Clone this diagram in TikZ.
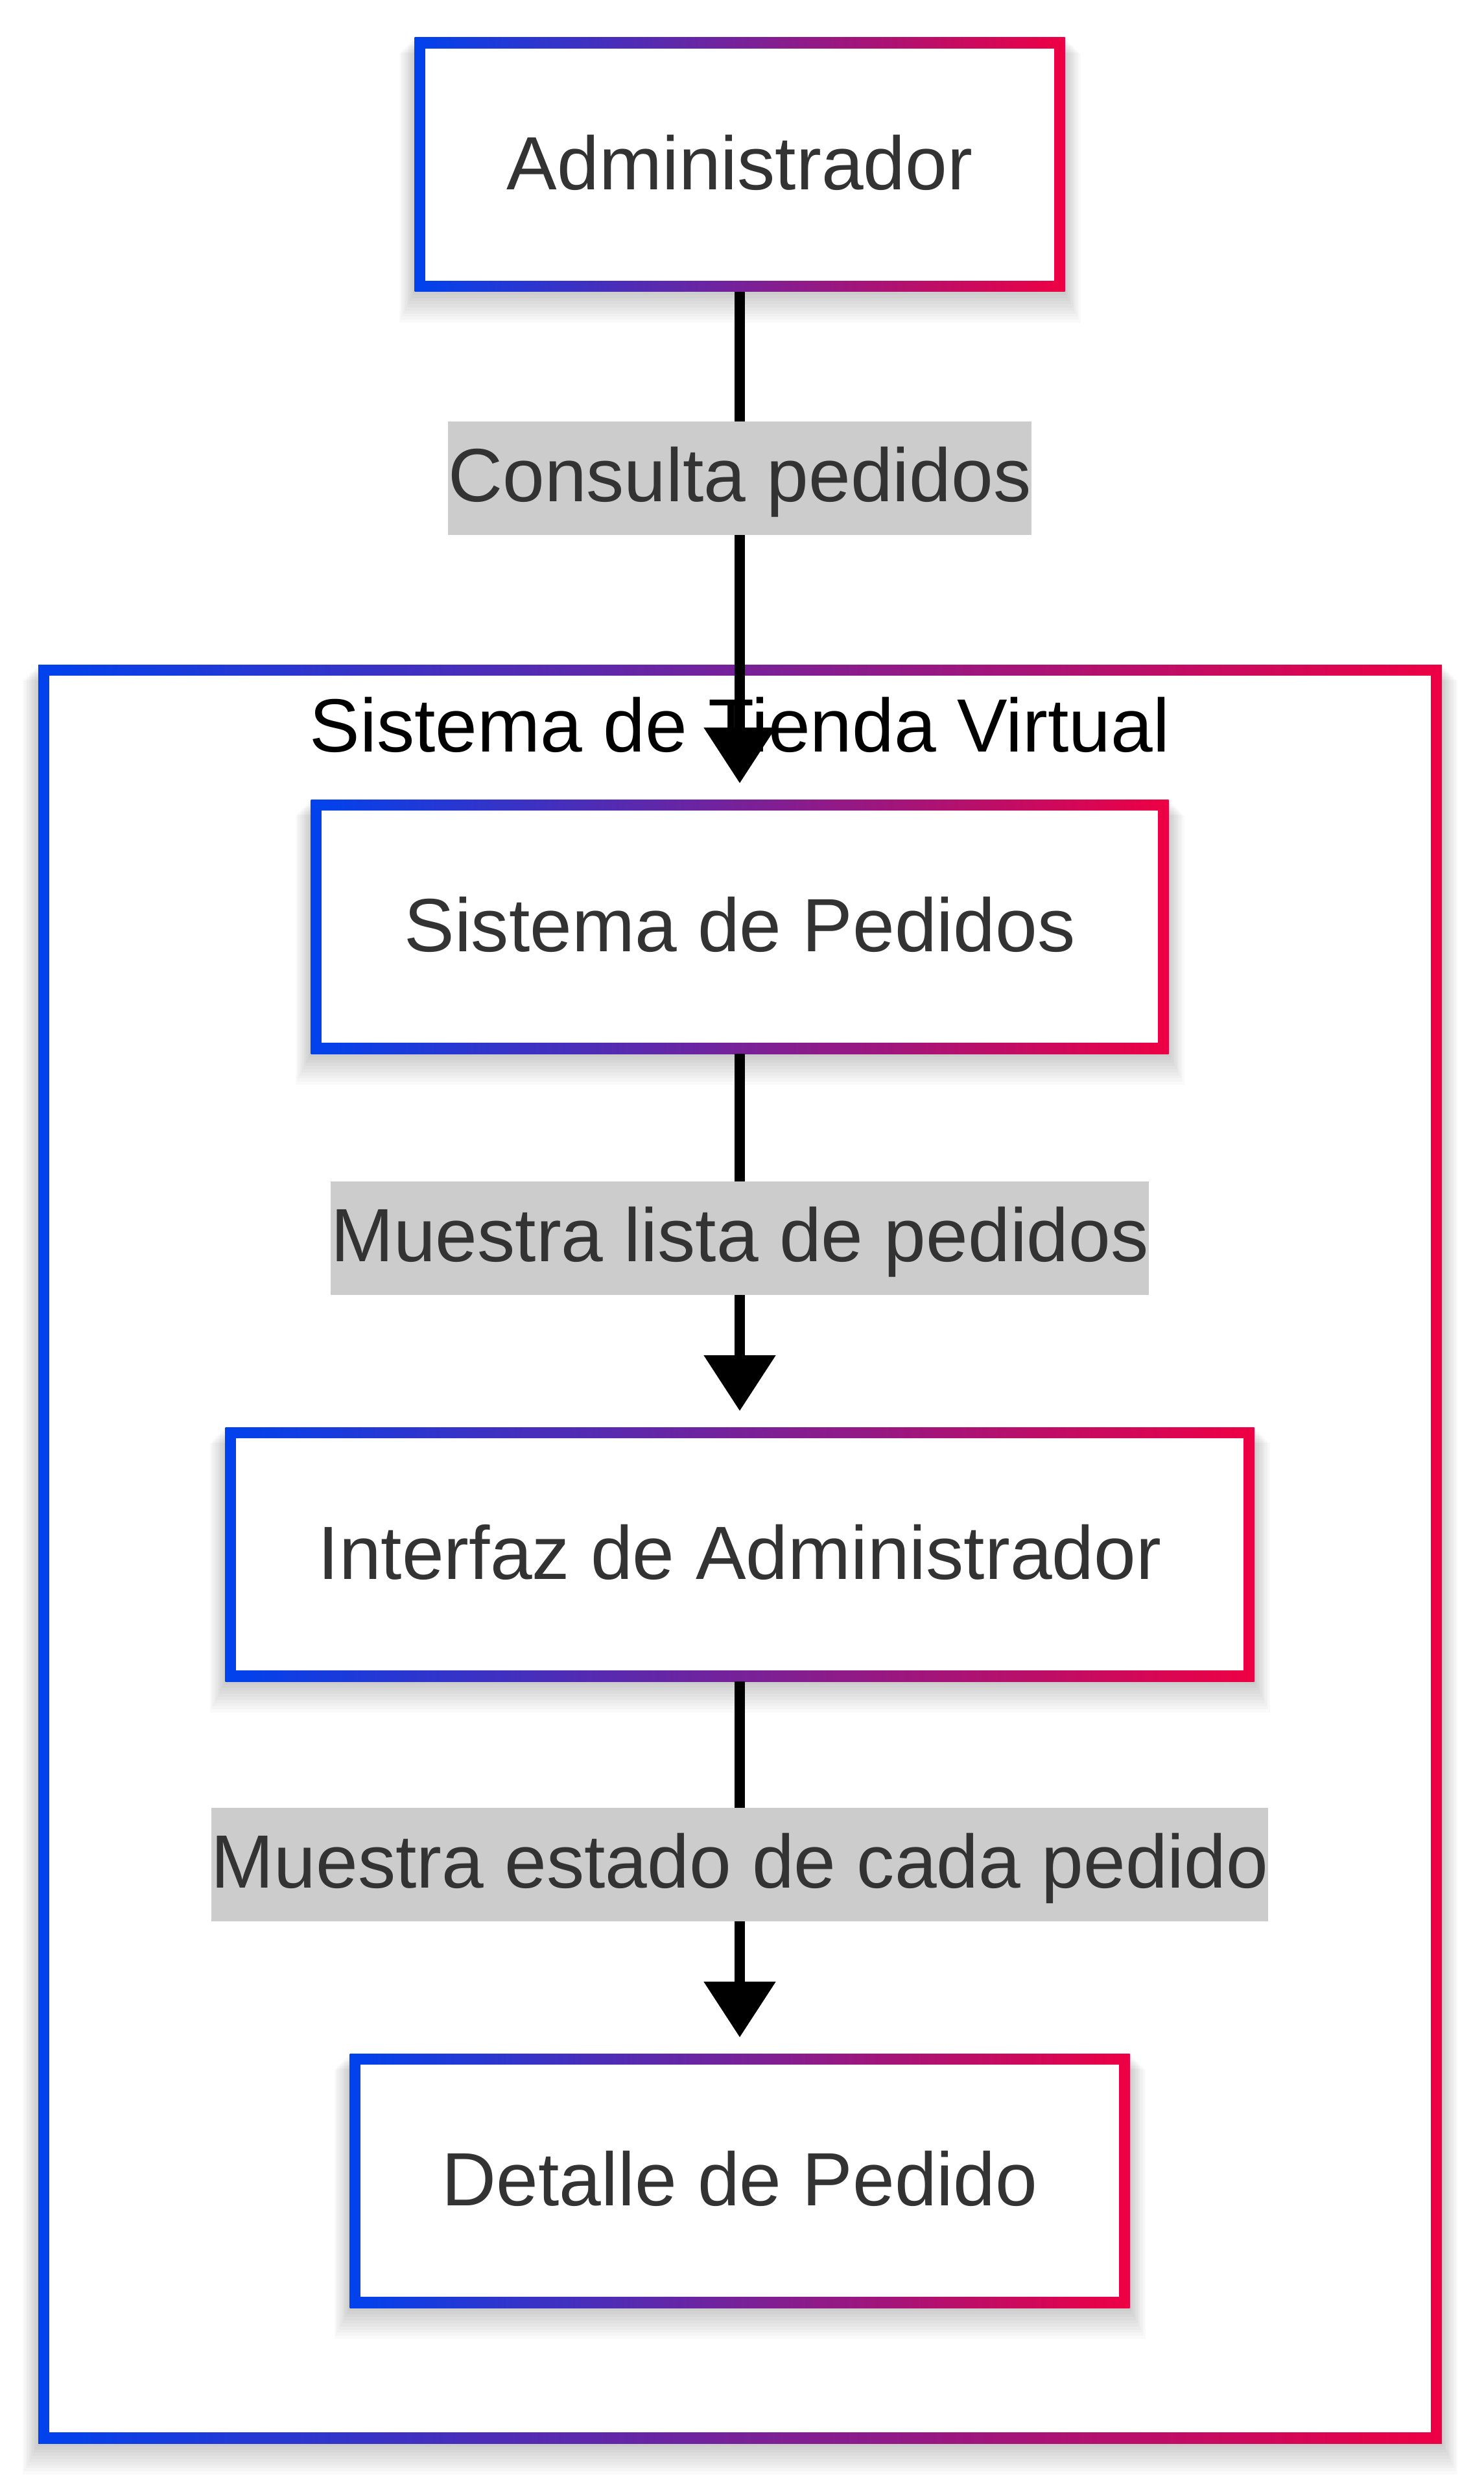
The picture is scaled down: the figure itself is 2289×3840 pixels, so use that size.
\documentclass[tikz,border=0pt]{standalone}
\usepackage{fontspec}
\setmainfont{Liberation Sans}
\usetikzlibrary{arrows.meta}
\definecolor{gblue}{HTML}{0042EE}
\definecolor{gred}{HTML}{EE0044}
\definecolor{txt}{HTML}{333333}
\definecolor{lblbg}{HTML}{CCCCCC}
\pgfdeclarelayer{lzero}\pgfdeclarelayer{lone}\pgfdeclarelayer{ltwo}
\pgfsetlayers{lzero,lone,ltwo,main}
\newcommand\mainf{\fontsize{29.1pt}{35pt}\selectfont}
\newcommand\softshadow[1]{%
  \foreach \i in {1,...,10}{%
    \fill[black,fill opacity=0.02] ([xshift=-\i*0.6pt,yshift=-\i*1.2pt]#1.south west) rectangle ([xshift=\i*0.6pt,yshift=-\i*0.6pt]#1.north east);
  }}
\begin{document}
\begin{tikzpicture}[x=0.25pt,y=-0.25pt,
  gbox/.style={rectangle, inner sep=0pt, outer sep=0pt, left color=gblue, right color=gred,
    path picture={\fill[white] ([xshift=4.15pt,yshift=4.15pt]path picture bounding box.south west) rectangle ([xshift=-4.15pt,yshift=-4.15pt]path picture bounding box.north east);}},
  box/.style={gbox, minimum height=98pt, text=txt, font=\mainf, text height=25pt, text depth=5.8pt},
  lbl/.style={rectangle, fill=lblbg, text=txt, font=\mainf, inner xsep=0pt, inner ysep=0pt, outer sep=0pt, minimum height=43.75pt, text height=23.9pt, text depth=5.8pt},
  edge/.style={draw=black, line width=4pt, -{Triangle[width=26.75pt,length=21.5pt]}, shorten >=6.25pt}]
\useasboundingbox (0,0) rectangle (2289,3840);
\begin{pgfonlayer}{lzero}
  \fill[white] (0,0) rectangle (2289,3840);
\end{pgfonlayer}

% cluster
\begin{pgfonlayer}{lone}
  \node[gbox, minimum width=541.25pt, minimum height=685.75pt] (cl) at (1141.5,2396.5) {};
  \node[anchor=base, font=\mainf, text=black, inner sep=0pt] (title) at (1141,1159) {Sistema de Tienda Virtual};
\end{pgfonlayer}
\begin{pgfonlayer}{lzero}
  \softshadow{cl}
\end{pgfonlayer}

% nodes
\node[box, minimum width=250.75pt] (adm) at (1141,254) {Administrador};
\node[box, minimum width=330.75pt] (sp) at (1141,1429) {Sistema de Pedidos};
\node[box, minimum width=396.75pt] (ia) at (1141,2397) {Interfaz de Administrador};
\node[box, minimum width=300.75pt] (dp) at (1141,3363) {Detalle de Pedido};

\begin{pgfonlayer}{ltwo}
  \softshadow{adm}
  \softshadow{sp}
  \softshadow{ia}
  \softshadow{dp}
\end{pgfonlayer}

% edges
\draw[edge] (adm.south) -- (sp.north);
\draw[edge] (sp.south) -- (ia.north);
\draw[edge] (ia.south) -- (dp.north);

% edge labels
\node[lbl] (l1) at (1141,737.5) {Consulta pedidos};
\node[lbl] (l2) at (1141,1909) {Muestra lista de pedidos};
\node[lbl] (l3) at (1141,2875) {Muestra estado de cada pedido};
\end{tikzpicture}
\end{document}
